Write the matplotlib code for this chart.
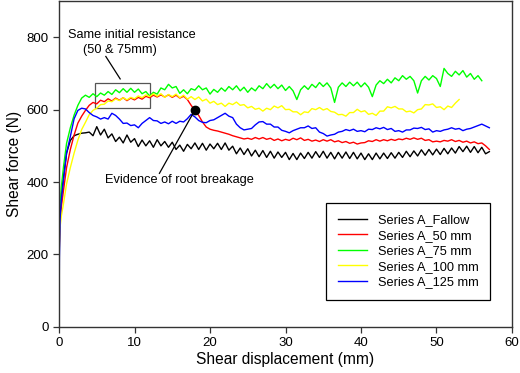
import numpy as np
import matplotlib
matplotlib.use("Agg")
import matplotlib.pyplot as plt
from matplotlib.patches import Rectangle

plt.rcParams['font.family'] = ['Liberation Sans', 'DejaVu Sans']

# displacement (mm): steep start, then every 0.5 mm
x_rise = [0, 0.05, 0.15, 0.3, 0.6, 1.0, 1.5, 2.0, 2.5, 3.0, 3.5]
x_plateau = list(np.arange(4.0, 57.01, 0.5))

# shear force (N)
fallow_rise = [190, 250, 315, 360, 415, 480, 515, 528, 532, 535, 536]
fallow = [538, 528, 553, 530, 546, 522, 533, 512, 524, 508, 530, 510, 520, 498,
          516, 500, 514, 496, 517, 500, 512, 496, 510, 490, 502, 485, 504, 492,
          508, 490, 507, 488, 505, 492, 507, 490, 508, 488, 499, 478, 494, 476,
          492, 472, 488, 470, 487, 468, 485, 466, 483, 468, 482, 462, 479, 462,
          480, 465, 482, 466, 484, 468, 485, 466, 482, 464, 482, 466, 483, 465,
          482, 464, 480, 462, 478, 462, 480, 464, 480, 465, 481, 466, 482, 468,
          485, 470, 486, 472, 489, 474, 490, 475, 491, 476, 493, 478, 494, 480,
          498, 484, 499, 482, 498, 481, 496, 478, 484]

mm50_rise = [180, 230, 295, 330, 378, 440, 490, 530, 563, 582, 598]
mm50 = [612, 620, 616, 626, 622, 630, 624, 632, 626, 633, 625, 632, 627, 634,
        629, 637, 633, 640, 635, 641, 635, 641, 634, 640, 632, 637, 628, 612,
        598, 584, 566, 552, 546, 543, 541, 538, 535, 532, 528, 525, 522, 519,
        521, 518, 523, 519, 523, 518, 521, 515, 519, 514, 518, 515, 521, 517,
        522, 515, 518, 513, 516, 512, 517, 513, 517, 511, 514, 509, 512, 507,
        510, 505, 508, 509, 514, 512, 517, 513, 517, 514, 518, 515, 519, 517,
        521, 518, 522, 518, 521, 515, 517, 511, 513, 511, 515, 513, 517, 512,
        515, 510, 513, 508, 511, 506, 508, 500, 490]

mm75_rise = [200, 270, 335, 385, 443, 507, 550, 585, 612, 632, 640]
mm75 = [634, 644, 636, 646, 640, 650, 642, 655, 647, 658, 648, 659, 648, 657,
        644, 650, 638, 648, 643, 660, 655, 670, 660, 664, 645, 655, 644, 658,
        654, 666, 655, 660, 643, 656, 648, 660, 651, 664, 655, 666, 652, 662,
        648, 660, 652, 666, 658, 672, 660, 670, 658, 668, 653, 664, 652, 628,
        655, 666, 656, 670, 661, 675, 664, 674, 660, 620, 662, 674, 664, 676,
        666, 676, 663, 674, 662, 636, 668, 680, 672, 684, 674, 688, 680, 694,
        684, 692, 680, 646, 680, 692, 682, 694, 686, 664, 714, 700, 692, 706,
        696, 708, 690, 700, 684, 694, 680]

mm100_rise = [180, 220, 277, 305, 341, 395, 440, 480, 516, 545, 565]
mm100 = [586, 598, 604, 614, 615, 624, 622, 630, 625, 633, 627, 634, 630, 638,
         633, 641, 636, 644, 637, 644, 634, 642, 636, 643, 633, 640, 629, 636,
         628, 635, 624, 629, 618, 623, 614, 618, 609, 618, 614, 621, 612, 614,
         605, 609, 601, 604, 596, 604, 600, 610, 605, 611, 600, 601, 594, 594,
         586, 594, 592, 603, 600, 606, 599, 603, 595, 593, 586, 587, 582, 592,
         592, 601, 594, 597, 587, 590, 584, 596, 596, 608, 605, 609, 602, 602,
         594, 596, 591, 600, 602, 614, 613, 616, 606, 608, 600, 610, 606, 618,
         628]

mm125_rise = [0, 190, 300, 350, 406, 480, 526, 575, 598, 604, 602]
mm125 = [592, 584, 580, 574, 578, 574, 590, 584, 574, 562, 563, 556, 558, 550,
         562, 570, 578, 570, 569, 562, 566, 561, 568, 562, 568, 566, 575, 587,
         580, 570, 565, 564, 570, 572, 578, 584, 590, 582, 578, 560, 550, 544,
         546, 548, 558, 566, 567, 560, 560, 552, 552, 543, 540, 536, 542, 546,
         550, 550, 555, 548, 550, 538, 534, 527, 530, 532, 538, 540, 545, 542,
         546, 540, 542, 539, 546, 545, 550, 547, 551, 545, 548, 540, 542, 538,
         544, 544, 549, 548, 551, 545, 547, 538, 542, 540, 544, 546, 550, 546,
         548, 542, 546, 548, 552, 556, 560, 555, 550]

labels = ['Series A_Fallow', 'Series A_50 mm', 'Series A_75 mm',
          'Series A_100 mm', 'Series A_125 mm']
colours = ['#000000', '#ff0000', '#00ff00', '#ffff00', '#0000ff']
series = [(fallow_rise, fallow), (mm50_rise, mm50), (mm75_rise, mm75),
          (mm100_rise, mm100), (mm125_rise, mm125)]

fig = plt.figure(figsize=(5.2, 3.73), dpi=100)
ax = fig.add_axes([0.1135, 0.124, 0.8711, 0.873])

for (rise, rest), c, lab in zip(series, colours, labels):
    xs = x_rise + x_plateau[:len(rest)]
    ys = rise + rest
    ax.plot(xs, ys, color=c, lw=1.0, label=lab)

# annotations
ax.add_patch(Rectangle((4.8, 604), 7.2, 69, fill=False, ec='#555555', lw=0.9))
ax.text(9.7, 807, 'Same initial resistance', ha='center', va='center', fontsize=9.2)
ax.text(8.1, 765, '(50 & 75mm)', ha='center', va='center', fontsize=9.2)
ax.plot([6.2, 8.1], [747, 685], color='black', lw=0.9)

ax.plot([18.0], [600], 'o', color='black', ms=6)
ax.plot([13.3, 18.0], [424, 599], color='black', lw=0.9)
ax.text(16.0, 406, 'Evidence of root breakage', ha='center', va='center', fontsize=9.2)

ax.set_xlim(0, 60)
ax.set_ylim(0, 900)
ax.set_xticks([0, 10, 20, 30, 40, 50, 60])
ax.set_yticks([0, 200, 400, 600, 800])
ax.tick_params(direction='out', length=4, width=0.9, colors='#333333',
               labelcolor='black', labelsize=9.5)
for s in ax.spines.values():
    s.set_color('#333333')
    s.set_linewidth(1.0)
ax.set_xlabel('Shear displacement (mm)', fontsize=11.2, labelpad=2)
ax.set_ylabel('Shear force (N)', fontsize=11.2, labelpad=3)

leg = ax.legend(loc='lower right', bbox_to_anchor=(0.951, 0.082), fontsize=9.2,
                fancybox=False, edgecolor='black', framealpha=1,
                handlelength=2.3, borderpad=0.9, labelspacing=0.28,
                handletextpad=0.8, borderaxespad=0)
leg.get_frame().set_linewidth(0.9)

fig.savefig('out.png', dpi=100)
